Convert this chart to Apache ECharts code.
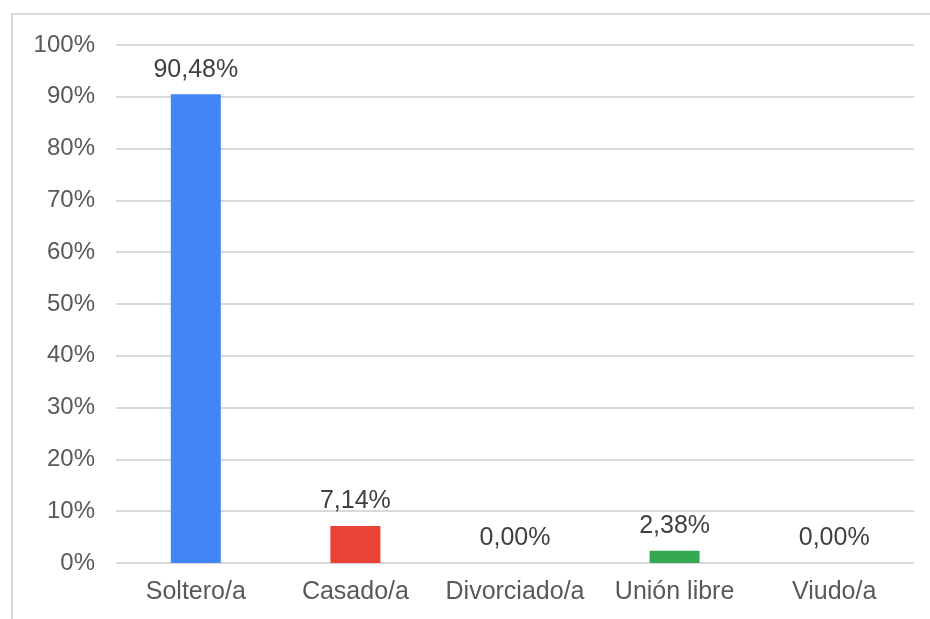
<!DOCTYPE html>
<html>
<head>
<meta charset="utf-8">
<script src="https://cdn.jsdelivr.net/npm/echarts@6/dist/echarts.min.js"></script>
<style>
  html, body { margin: 0; padding: 0; background: #fff; }
  #chart { width: 930px; height: 619px; }
</style>
</head>
<body>
<div id="chart"></div>
<script>
// Estado civil: porcentaje por categoría
const categories = ['Soltero/a', 'Casado/a', 'Divorciado/a', 'Unión libre', 'Viudo/a'];
const percentages = [90.48, 7.14, 0.00, 2.38, 0.00];
const barColors = ['#4285F4', '#EA4335', '#FBBC04', '#34A853', '#FF6D01'];
const yTicks = { min: 0, max: 100, interval: 10 };

const textColor = '#595959';
const fontFamily = '"Liberation Sans", Arial, sans-serif';

const chart = echarts.init(document.getElementById('chart'));
chart.setOption({
  animation: false,
  graphic: [{
    type: 'polyline',
    shape: { points: [[12, 619], [12, 14], [930, 14]] },
    style: { stroke: '#d9d9d9', lineWidth: 2, fill: null }
  }],
  grid: { left: 116, right: 16, top: 45, bottom: 56, containLabel: false },
  xAxis: {
    type: 'category',
    data: categories,
    axisTick: { show: false },
    axisLine: { show: false },
    axisLabel: {
      interval: 0, hideOverlap: false,
      color: textColor, fontSize: 25, fontFamily: fontFamily, margin: 17
    }
  },
  yAxis: {
    type: 'value',
    min: yTicks.min,
    max: yTicks.max,
    interval: yTicks.interval,
    axisLine: { show: false },
    axisTick: { show: false },
    splitLine: { lineStyle: { color: '#d9d9d9', width: 2 } },
    axisLabel: {
      color: textColor, fontSize: 24, fontFamily: fontFamily, margin: 21,
      formatter: '{value}%'
    }
  },
  series: [{
    type: 'bar',
    barWidth: 50,
    data: percentages.map((v, i) => ({ value: v, itemStyle: { color: barColors[i] } })),
    label: {
      show: true,
      position: 'top',
      distance: 12,
      color: '#404040',
      fontSize: 25,
      fontFamily: fontFamily,
      formatter: p => p.value.toFixed(2).replace('.', ',') + '%'
    }
  }]
});
</script>
</body>
</html>
